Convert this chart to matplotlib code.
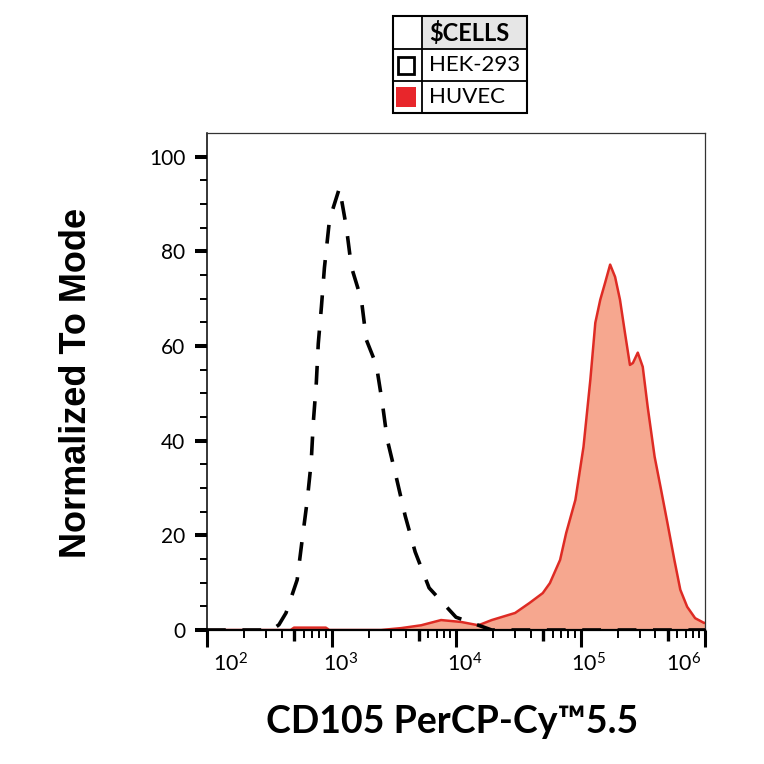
import matplotlib
matplotlib.use("Agg")
import matplotlib.pyplot as plt
from matplotlib.patches import Rectangle
from matplotlib.transforms import offset_copy

plt.rcParams["font.family"] = ["Lato", "DejaVu Sans"]
plt.rcParams["mathtext.fontset"] = "custom"
plt.rcParams["mathtext.rm"] = "Lato"
plt.rcParams["mathtext.it"] = "Lato"
plt.rcParams["mathtext.bf"] = "Lato:bold"

# HEK-293 (dashed, unfilled)
hek_x = [100, 330, 378, 431, 530, 581, 638, 687, 714, 755, 783, 830, 877, 964,
         1159, 1318, 1445, 1738, 1905, 2291, 2559, 2805, 3311, 3908, 4699, 6081,
         10000, 19360, 1e6]
hek_y = [0, 0, 1.1, 3.6, 10.6, 19.0, 27.3, 35.5, 43.8, 52.2, 60.5, 68.3, 76.5, 86.7,
         93.4, 85.0, 76.7, 69.8, 61.3, 56.0, 48.0, 40.2, 32.3, 24.1, 16.5, 8.9,
         2.7, 0, 0]

# HUVEC (filled)
huv_x = [100, 470, 500, 900, 960, 2500, 3630, 5250, 7590, 10990, 15140, 19360,
         29850, 38900, 49770, 56750, 68550, 76740, 90990, 105700, 120000, 131500,
         144200, 157800, 173000, 189600, 207500, 227500, 249500, 263500, 288500,
         316200, 346600, 393900, 439500, 499300, 567500, 633500, 719300, 833000,
         981700, 1e6]
huv_y = [0, 0, 0.5, 0.5, 0, 0, 0.4, 1, 2.1, 1.7, 1, 2.1,
         3.6, 5.7, 7.8, 9.9, 14.8, 20.5, 27.5, 38.7, 52.9, 64.9,
         69.8, 73.4, 77.2, 74.6, 69.8, 62.8, 56, 56.4, 58.6,
         55.6, 47.1, 36.6, 30.2, 22.6, 14.8, 8.5, 4.9, 2.5,
         1.5, 1.5]

decades = [1e2, 1e3, 1e4, 1e5, 1e6]
decade_labels = ["$10^{2}$", "$10^{3}$", "$10^{4}$", "$10^{5}$", "$10^{6}$"]
y_ticks = [0, 20, 40, 60, 80, 100]
legend_names = ["HEK-293", "HUVEC"]

W = 764


def fpos(x, y):
    return x / W, 1 - y / W


fig = plt.figure(figsize=(7.64, 7.64), dpi=100)
ax = fig.add_axes([207 / W, 134 / W, 498 / W, 497 / W])

ax.fill_between(huv_x, huv_y, 0, color="#f6a78f", lw=0, zorder=1)
ax.plot(huv_x, huv_y, color="#de2b24", lw=1.8, zorder=2)
dash, = ax.plot(hek_x, hek_y, color="black", lw=2.6, zorder=3)
dash.set_dashes([5.2, 4.6])

ax.set_xscale("log")
ax.set_xlim(1e2, 1e6)
ax.set_ylim(0, 105)

# x ticks: decades long, 5x medium, the rest short
ax.set_xticks(decades)
ax.set_xticklabels([])
minor_locs = [m * d for d in decades[:-1] for m in range(2, 10)]
ax.set_xticks(minor_locs, minor=True)
ax.xaxis.set_minor_formatter(plt.NullFormatter())
ax.tick_params(axis="x", which="major", direction="out", length=12, width=2.2)
ax.tick_params(axis="x", which="minor", direction="out", length=5.5, width=1.4)
for i, tick in enumerate(ax.xaxis.get_minor_ticks(len(minor_locs))):
    if i % 8 == 3:
        tick.tick1line.set_markersize(8)
        tick.tick1line.set_markeredgewidth(2.4)

xt = ax.get_xaxis_transform()
offsets = [(6, "left"), (9, "center"), (9, "center"), (8, "center"), (-4, "right")]
for loc, lab, (dx, ha) in zip(decades, decade_labels, offsets):
    tr = offset_copy(xt, fig=fig, x=dx, y=-22, units="dots")
    ax.text(loc, 0, lab, transform=tr, ha=ha, va="top", fontsize=15.5)

# y ticks
ax.set_yticks(y_ticks)
ax.set_yticks(range(0, 105, 5), minor=True)
ax.tick_params(axis="y", which="major", direction="out", length=8.6, width=2.9,
               labelsize=15, pad=7)
ax.tick_params(axis="y", which="minor", direction="out", length=5, width=1.4)

ax.spines["left"].set_linewidth(1.1)
ax.spines["bottom"].set_linewidth(1.6)
for s in ("top", "right"):
    ax.spines[s].set_linewidth(0.9)
    ax.spines[s].set_color("#333333")

fig.text(*fpos(452, 722), "CD105 PerCP-Cy\u21225.5", ha="center", va="center",
         fontsize=27, fontweight="bold")
fig.text(*fpos(77, 383), "Normalized To Mode", ha="center", va="center",
         rotation=90, fontsize=26, fontweight="bold",
         family=["Liberation Sans", "DejaVu Sans"])

# legend table
left, mid, right = 393, 421.5, 527
rows = [16, 49, 81, 113]
fig.add_artist(Rectangle(fpos(mid, rows[1]), (right - mid) / W, (rows[1] - rows[0]) / W,
                         transform=fig.transFigure, facecolor="#e6e6e6", lw=0))
fig.add_artist(Rectangle(fpos(left, rows[3]), (right - left) / W, (rows[3] - rows[0]) / W,
                         transform=fig.transFigure, facecolor="none",
                         edgecolor="black", lw=1.5))
for yr in rows[1:3]:
    fig.add_artist(plt.Line2D([left / W, right / W], [1 - yr / W] * 2,
                              transform=fig.transFigure, color="black", lw=1.3))
fig.add_artist(plt.Line2D([mid / W] * 2, [1 - rows[0] / W, 1 - rows[3] / W],
                          transform=fig.transFigure, color="black", lw=1.3))
fig.text(*fpos(429, 33), "$CELLS", fontsize=17, fontweight="bold", va="center")
sq = 17
fig.add_artist(Rectangle(fpos(397.5, 74), sq / W, sq / W, transform=fig.transFigure,
                         facecolor="white", edgecolor="black", lw=2))
fig.add_artist(Rectangle(fpos(396.5, 107), 19 / W, 20 / W, transform=fig.transFigure,
                         facecolor="#e8262b", lw=0))
for name, yc in zip(legend_names, [65, 97]):
    fig.text(*fpos(429, yc), name, fontsize=16, va="center")

fig.savefig("out.png", dpi=100)
